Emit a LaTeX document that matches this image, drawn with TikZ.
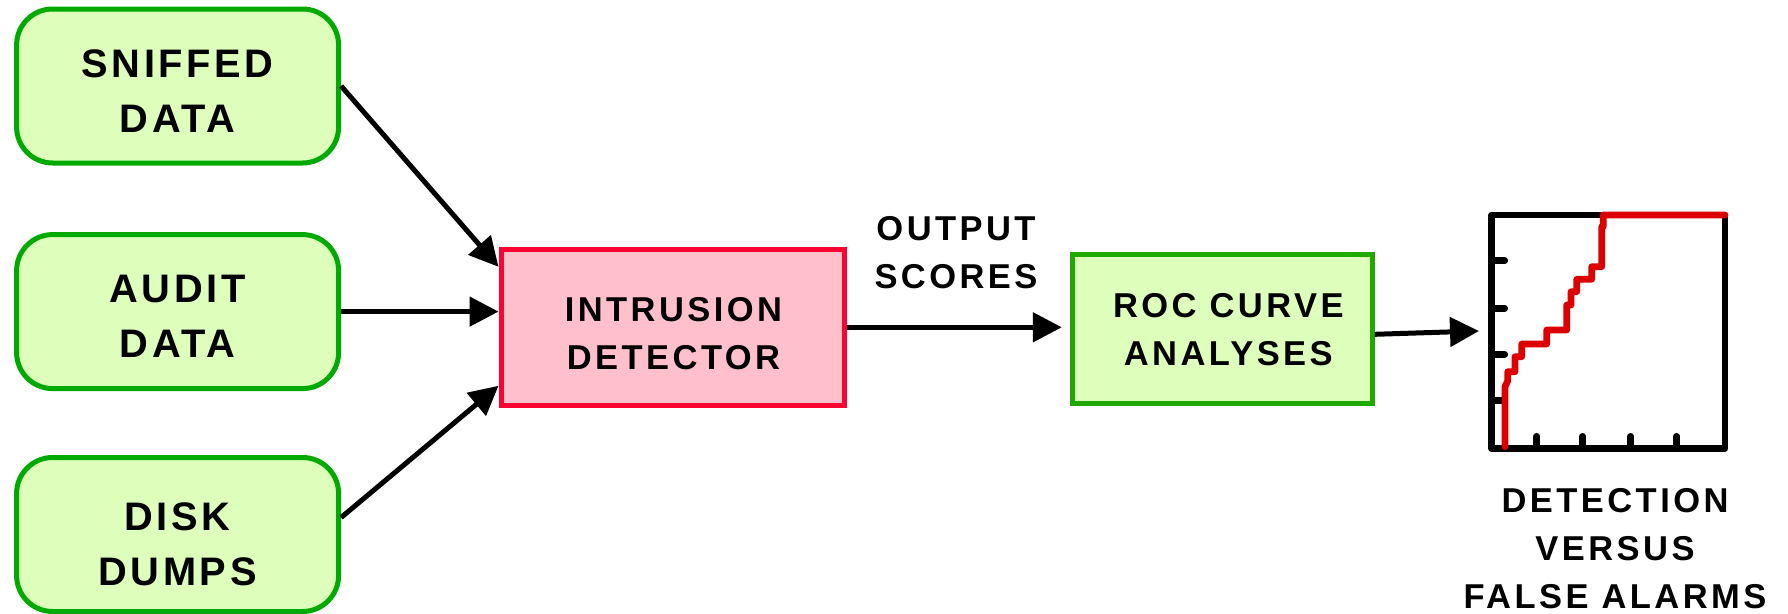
\documentclass[tikz,border=0pt]{standalone}
\usepackage{fontspec}
\setmainfont{Liberation Sans}
\newfontfamily\srcfont{Liberation Sans}[LetterSpace=9]
\newfontfamily\stagefont{Liberation Sans}[LetterSpace=10]
\usetikzlibrary{arrows.meta,calc}

\definecolor{boxgreen}{RGB}{0,170,0}
\definecolor{rocgreen}{RGB}{32,170,0}
\definecolor{leaf}{RGB}{221,255,187}
\definecolor{detred}{RGB}{255,0,51}
\definecolor{detpink}{RGB}{255,192,203}
\definecolor{curvered}{RGB}{220,0,0}

\begin{document}
\begin{tikzpicture}[x=1pt,y=-1pt,
  srctext/.style={align=center, font=\srcfont\bfseries\fontsize{39.8}{55}\selectfont},
  stagetext/.style={align=center, font=\stagefont\bfseries\fontsize{34.5}{48}\selectfont},
  source/.style={draw=boxgreen, fill=leaf, line width=5pt,
    rounded corners=36pt, minimum width=322pt, minimum height=154pt, inner sep=0pt},
  detector/.style={draw=detred, fill=detpink, line width=5pt,
    minimum width=343pt, minimum height=156pt, inner sep=0pt},
  analysis/.style={draw=rocgreen, fill=leaf, line width=5pt,
    minimum width=300pt, minimum height=149pt, inner sep=0pt},
  link/.style={line width=5pt, -{Triangle[length=29pt,width=29pt]}},
  axisline/.style={line width=6.7pt, line cap=round, line join=round},
  rocline/.style={curvered, line width=6.7pt, line cap=round, line join=round}]

\useasboundingbox (0,0) rectangle (1788,613);

% input sources
\node[source] (sniffed) at (177.6,86)  {};
\node[source] (audit)   at (177.6,311.6) {};
\node[source] (disk)    at (177.6,534.5) {};
\node[srctext] (sniffedtext) at ($(sniffed)+(0,5)$) {SNIFFED\\DATA};
\node[srctext] (audittext)   at ($(audit)+(0,5)$)   {AUDIT\\DATA};
\node[srctext] (disktext)    at ($(disk)+(0,10)$)   {DISK\\DUMPS};

% processing stages
\node[detector] (intrusion) at (672.5,327.3) {};
\node[analysis] (roc) at (1222.3,329.3) {};
\node[stagetext] (intrusiontext) at ($(intrusion)+(1,6)$) {INTRUSION\\DETECTOR};
\node[stagetext] (roctext) at ($(roc)+(6,0)$) {ROC CURVE\\ANALYSES};

\node[stagetext] (scores) at (956,252.5) {OUTPUT\\SCORES};
\node[stagetext] (caption) at (1615,549) {DETECTION\\VERSUS\\FALSE ALARMS};

% ROC plot frame and ticks
\draw[axisline] (1491.7,215) rectangle (1725,448.3);
\foreach \ty in {260.7,308.3,354.3,400.7}
  \draw[axisline] (1491.7,\ty) -- ++(13,0);
\foreach \tx in {1536.7,1582.7,1630.7,1676.7}
  \draw[axisline] (\tx,448.3) -- ++(0,-12);

% staircase ROC curve
\draw[rocline] (1505,446.7) -- (1505,386.7) -- (1507.7,381) -- (1507.7,371.7)
  -- (1515,371.7) -- (1515,356.7) -- (1521.7,356.7) -- (1521.7,344)
  -- (1546.7,344) -- (1546.7,330) -- (1566.7,330) -- (1566.7,305)
  -- (1571,305) -- (1571,291.7) -- (1576.7,291.7) -- (1576.7,279.3)
  -- (1591.7,279.3) -- (1591.7,266.7) -- (1601.7,266.7) -- (1601.7,226.7)
  -- (1603.3,226.7) -- (1603.3,215) -- (1725,215);

\coordinate (plotin) at (1479,331);

% connectors
\draw[link] (sniffed.east) -- ($(intrusion.north west)+(0,20)$);
\draw[link] (audit.east) -- (audit.east -| intrusion.west);
\draw[link] ($(disk.east)+(0,-17)$) -- ($(intrusion.south west)+(0,-22)$);
\draw[link, shorten >=8pt] (intrusion.east) -- (intrusion.east -| roc.west);
\draw[link] ($(roc.east)+(0,5)$) -- (plotin);
\end{tikzpicture}
\end{document}
